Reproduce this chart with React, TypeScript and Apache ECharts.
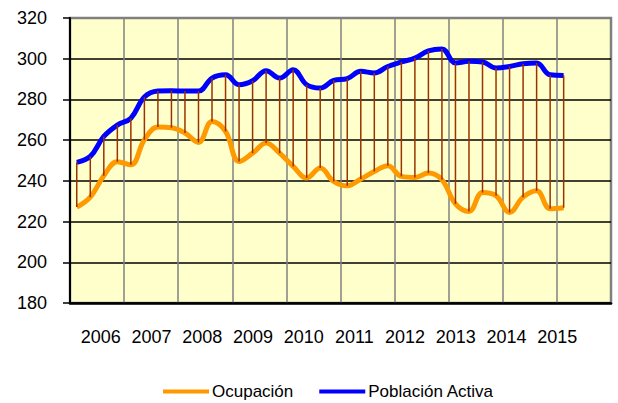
import React, { useEffect, useRef } from "react";
import * as echarts from "echarts";

const years = ["2006", "2007", "2008", "2009", "2010", "2011", "2012", "2013", "2014", "2015"];
const yTicks = { min: 180, max: 320, interval: 20 };
const seriesNames = ["Ocupación", "Población Activa"];

const ocupacion = [
  227.1, 232.0, 242.5, 249.4, 247.9, 260.2, 266.4, 266.1, 263.5, 258.9, 269.2, 264.3,
  249.5, 253.6, 258.6, 253.6, 247.1, 241.4, 246.3, 239.7, 237.6, 240.9, 244.6, 247.4,
  242.2, 241.7, 243.8, 240.5, 228.7, 225.0, 234.3, 232.7, 224.5, 232.0, 235.1, 226.3, 226.8,
];
const poblacionActiva = [
  249.1, 252.0, 261.8, 267.4, 270.8, 281.2, 284.1, 284.3, 284.1, 284.1, 290.5, 292.1,
  287.2, 289.2, 294.1, 290.5, 294.6, 287.2, 285.6, 289.4, 290.2, 293.8, 293.0, 296.2,
  298.4, 300.3, 303.8, 304.8, 297.9, 298.7, 298.4, 295.4, 296.2, 297.5, 297.9, 292.1, 291.8,
];

const FONT = "'Liberation Sans', Arial, sans-serif";

export default function App() {
  const ref = useRef<HTMLDivElement>(null);
  useEffect(() => {
    if (!ref.current) return;
    const chart = echarts.init(ref.current, undefined, { renderer: "svg" });
    const slots = years.length * 4;
    const occData = ocupacion.map((v, i) => [i + 0.5, v]);
    const actData = poblacionActiva.map((v, i) => [i + 0.5, v]);
    const hiLo = ocupacion.map((v, i) => [i + 0.5, v, poblacionActiva[i]]);
    chart.setOption({
      animation: false,
      textStyle: { fontFamily: FONT },
      grid: [
        {
          left: 70, right: 7, top: 18, bottom: 100,
          show: true, backgroundColor: "#FFFFCC", borderColor: "#808080", borderWidth: 2.5,
          containLabel: false,
        },
        { left: 75.5, right: 35.5, top: 18, bottom: 100, show: false, containLabel: false },
      ],
      xAxis: [
        {
          type: "value", gridIndex: 0, min: 0, max: slots, interval: 4,
          axisLine: { show: true, onZero: false, lineStyle: { color: "#000", width: 2.5 } },
          axisTick: { show: false },
          axisLabel: { show: false },
          splitLine: { show: true, showMaxLine: false, lineStyle: { color: "#808080", width: 1.5 } },
        },
        {
          type: "category", gridIndex: 1, data: years, boundaryGap: true,
          axisLine: { show: false }, axisTick: { show: false },
          axisLabel: { show: true, color: "#000", fontSize: 18, fontFamily: FONT, margin: 25, interval: 0 },
          splitLine: { show: false },
        },
      ],
      yAxis: [
        {
          type: "value", gridIndex: 0, min: yTicks.min, max: yTicks.max, interval: yTicks.interval,
          axisLine: { show: true, onZero: false, lineStyle: { color: "#000", width: 2 } },
          axisTick: { show: true, inside: false, length: 7, lineStyle: { color: "#000", width: 1.5 } },
          axisLabel: { color: "#000", fontSize: 18, fontFamily: FONT, margin: 23 },
          splitLine: { show: true, showMaxLine: false, lineStyle: { color: "#000", width: 1.5 } },
        },
        { type: "value", gridIndex: 1, show: false },
      ],
      legend: {
        left: 158, top: 378, itemWidth: 46, itemHeight: 14, itemGap: 26,
        textStyle: { color: "#000", fontSize: 17, fontFamily: FONT, padding: [0, 0, 0, -2] },
        data: seriesNames,
        icon: "path://M0,5 L46,5 L46,9 L0,9 Z",
      },
      series: [
        {
          name: seriesNames[0], type: "line", data: occData, xAxisIndex: 0, yAxisIndex: 0,
          smooth: 0.4, symbol: "none", color: "#FF9900",
          lineStyle: { color: "#FF9900", width: 5 }, z: 2,
        },
        {
          name: seriesNames[1], type: "line", data: actData, xAxisIndex: 0, yAxisIndex: 0,
          smooth: 0.4, symbol: "none", color: "#0000FF",
          lineStyle: { color: "#0000FF", width: 5 }, z: 3,
        },
        {
          name: "hilo", type: "custom", data: hiLo, xAxisIndex: 0, yAxisIndex: 0, z: 4,
          renderItem: (params: any, api: any) => {
            const x = api.value(0);
            const p1 = api.coord([x, api.value(1)]);
            const p2 = api.coord([x, api.value(2)]);
            return {
              type: "line",
              shape: { x1: p1[0], y1: p1[1], x2: p2[0], y2: p2[1] },
              style: { stroke: "#993300", lineWidth: 1.5 },
            };
          },
        },
      ],
    });
    return () => chart.dispose();
  }, []);
  return (
    <div
      ref={ref}
      style={{ position: "absolute", left: 0, top: 0, width: 618, height: 403 }}
    />
  );
}
